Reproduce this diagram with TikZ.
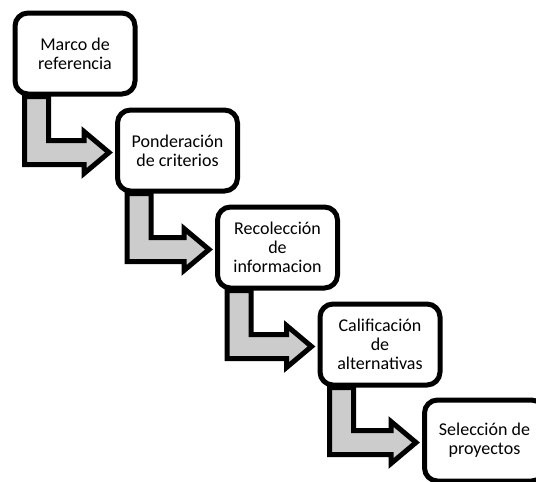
\documentclass[tikz,border=0pt]{standalone}
\usepackage{fontspec}
\setmainfont{Carlito}
\usetikzlibrary{calc,backgrounds}
\definecolor{relleno}{RGB}{204,204,204}

% flecha en escalon: de la caja #1 a la caja #2
\newcommand{\flecha}[2]{%
  \draw [flechabox] ($(#1.south west)+(12,0)$) |- ($(#2.west)+(-31,14)$)
    -- ++(0,9) -- ($(#2.west)+(-6,2)$) -- ($(#2.west)+(-31,-19)$)
    -- ++(0,9) -| ($(#1.south west)+(36,0)$) -- cycle;}

\begin{document}
\begin{tikzpicture}[x=1pt, y=-1pt,
    caja/.style = {draw=black, fill=white, line width=5pt, rounded corners=13pt,
                   minimum width=120pt, minimum height=81pt, align=center,
                   font=\fontsize{18}{19}\selectfont},
    flechabox/.style = {draw=black, fill=relleno, line width=5pt}]
		\useasboundingbox (0,0) rectangle (536,482);
		\clip (0,0) rectangle (536,482);
		
		\node [caja] (marco) at (75, 53.5) {Marco de\\referencia};
		\node [caja] (pond) at (177.5, 150.5) {Ponderación\\de criterios};
		\node [caja] (recol) at (277.5, 247.5) {Recolección\\de\\informacion};
		\node [caja] (calif) at (380, 344.5) {Calificación\\de\\alternativas};
		\node [caja] (selec) at (484.5, 440.5) {Selección de\\proyectos};
		
		\begin{pgfonlayer}{background}
		\flecha{marco}{pond}
		\flecha{pond}{recol}
		\flecha{recol}{calif}
		\flecha{calif}{selec}
		\end{pgfonlayer}
		
		\end{tikzpicture}
\end{document}
